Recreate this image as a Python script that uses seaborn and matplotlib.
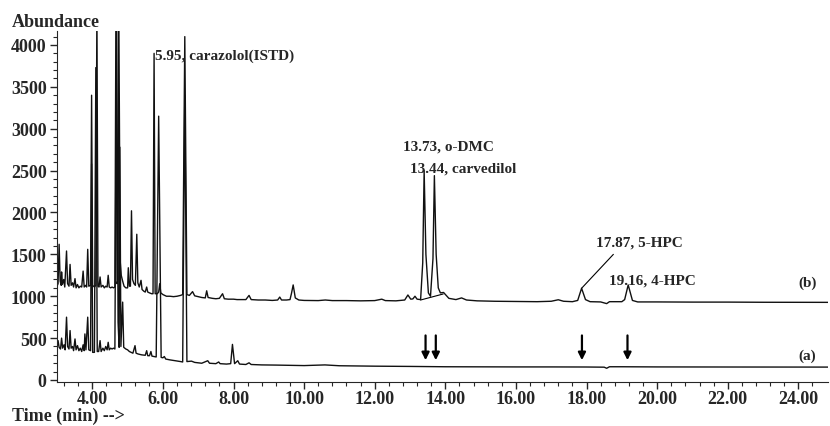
import matplotlib
matplotlib.use("Agg")
import matplotlib.pyplot as plt
import pandas as pd
import seaborn as sns

# trace (b): spiked sample (time in min, abundance)
time_b = [3.00, 3.03, 3.06, 3.09, 3.12, 3.13, 3.15, 3.19, 3.22, 3.27, 3.30, 3.34, 3.37, 3.40,
          3.44, 3.47, 3.51, 3.54, 3.58, 3.62, 3.66, 3.70, 3.74, 3.77, 3.81, 3.84, 3.87, 3.90,
          3.95, 3.98, 4.01, 4.06, 4.10, 4.13, 4.16, 4.19, 4.22, 4.25, 4.30, 4.34, 4.38, 4.42,
          4.45, 4.48, 4.52, 4.56, 4.60, 4.64, 4.67, 4.70, 4.73, 4.75, 4.79, 4.82, 4.86, 4.90,
          4.95, 5.00, 5.02, 5.05, 5.08, 5.11, 5.14, 5.18, 5.22, 5.26, 5.29, 5.33, 5.38, 5.41,
          5.46, 5.50, 5.54, 5.57, 5.62, 5.68, 5.72, 5.75, 5.78, 5.84, 5.88, 5.91, 5.94, 6.00,
          6.05, 6.10, 6.20, 6.30, 6.40, 6.50, 6.56, 6.62, 6.68, 6.75, 6.84, 6.90, 7.00, 7.10,
          7.20, 7.24, 7.28, 7.40, 7.50, 7.60, 7.69, 7.74, 7.85, 8.00, 8.10, 8.20, 8.35, 8.44,
          8.50, 8.70, 8.90, 9.10, 9.25, 9.31, 9.36, 9.50, 9.60, 9.64, 9.69, 9.75, 9.85, 10.00,
          10.40, 10.60, 10.80, 11.20, 11.60, 12.00, 12.20, 12.30, 12.60, 12.85, 12.94, 13.02,
          13.08, 13.14, 13.20, 13.30, 13.36, 13.40, 13.45, 13.52, 13.58, 13.65, 13.69, 13.74,
          13.80, 13.86, 13.95, 14.10, 14.30, 14.46, 14.60, 14.90, 15.40, 16.00, 16.60, 17.00,
          17.20, 17.35, 17.60, 17.75, 17.86, 17.97, 18.10, 18.40, 18.57, 18.65, 19.00, 19.08,
          19.18, 19.30, 19.45, 20.00, 21.00, 22.00, 23.00, 24.00, 24.85]
abund_b = [1120, 1150, 1620, 1180, 1130, 1290, 1140, 1200, 1110, 1540, 1150, 1120, 1380, 1130,
           1160, 1110, 1210, 1100, 1140, 1100, 1120, 1110, 1300, 1110, 1130, 1110, 1560, 1120,
           1130, 3400, 1130, 1110, 1130, 4500, 1120, 1110, 1230, 1110, 1130, 1100, 1120, 1110,
           1250, 1110, 1100, 1110, 1100, 1110, 4500, 1150, 1200, 4500, 1420, 1250, 1180, 1120,
           1100, 1100, 1340, 1120, 1120, 2020, 1200, 1150, 1130, 1740, 1160, 1110, 1190, 1080,
           1060, 1050, 1110, 1050, 1040, 1030, 1030, 3900, 1030, 1030, 1050, 1150, 1040, 1020,
           1010, 1000, 1000, 995, 1000, 1010, 1020, 4100, 1020, 1010, 1055, 1005, 995, 985,
           980, 1065, 985, 975, 970, 975, 1030, 970, 965, 965, 960, 960, 960, 1010,
           960, 955, 955, 950, 955, 990, 955, 955, 960, 1030, 1135, 980, 955, 950,
           948, 955, 948, 948, 945, 948, 965, 948, 945, 955, 1015, 965,
           968, 1000, 965, 960, 1400, 2500, 1500, 1040, 1000, 1450, 2440, 1500,
           1100, 1040, 1045, 975, 960, 980, 955, 945, 940, 938, 935, 940,
           958, 940, 935, 950, 1095, 960, 935, 932, 912, 935, 935, 960,
           1135, 950, 932, 932, 930, 930, 928, 928, 927]

# trace (a): blank sample
time_a = [3.00, 3.03, 3.06, 3.10, 3.13, 3.16, 3.20, 3.23, 3.27, 3.30, 3.34, 3.37, 3.40, 3.44,
          3.47, 3.51, 3.54, 3.58, 3.62, 3.66, 3.70, 3.74, 3.77, 3.79, 3.82, 3.87, 3.90, 3.95,
          3.98, 4.01, 4.06, 4.10, 4.14, 4.18, 4.22, 4.25, 4.30, 4.34, 4.38, 4.42, 4.45, 4.48,
          4.52, 4.56, 4.60, 4.64, 4.69, 4.73, 4.76, 4.78, 4.81, 4.86, 4.89, 4.95, 5.00, 5.05,
          5.10, 5.15, 5.21, 5.24, 5.30, 5.40, 5.50, 5.54, 5.57, 5.62, 5.66, 5.69, 5.75, 5.81,
          5.88, 5.95, 6.00, 6.04, 6.08, 6.20, 6.35, 6.50, 6.56, 6.62, 6.68, 6.81, 6.90, 7.10,
          7.27, 7.32, 7.50, 7.58, 7.62, 7.80, 7.92, 7.97, 8.03, 8.12, 8.17, 8.35, 8.44, 8.50,
          8.80, 9.20, 9.60, 10.00, 10.59, 11.00, 12.00, 13.00, 14.00, 15.00, 16.00, 17.00,
          18.00, 18.50, 18.57, 18.65, 19.00, 20.00, 22.00, 24.85]
abund_a = [380, 470, 390, 370, 500, 380, 420, 360, 750, 400, 370, 590, 380, 400,
           350, 490, 360, 410, 350, 380, 340, 420, 350, 550, 360, 750, 360, 350,
           2580, 330, 330, 3730, 340, 340, 470, 340, 380, 350, 400, 360, 450, 360,
           380, 370, 380, 370, 4500, 690, 390, 2780, 400, 930, 390, 370, 360, 340,
           330, 320, 410, 320, 310, 300, 295, 350, 290, 290, 340, 285, 280, 275,
           3150, 270, 265, 280, 250, 240, 230, 220, 215, 3400, 220, 225, 210, 200,
           230, 200, 195, 215, 195, 190, 195, 425, 195, 230, 190, 185, 205, 185,
           180, 178, 175, 172, 180, 170, 165, 162, 158, 157, 156, 156,
           155, 153, 140, 158, 158, 156, 155, 154]

# integration baseline under the carvedilol / o-DMC pair in (b)
integ_t = [13.30, 13.94]
integ_v = [955, 1027]

arrow_times = [13.44, 13.73, 17.87, 19.16]

sns.set_style("ticks")
plt.rcParams["font.family"] = ["Liberation Serif", "DejaVu Serif"]
plt.rcParams["font.weight"] = "bold"

df_b = pd.DataFrame({"t": time_b, "v": abund_b})
df_a = pd.DataFrame({"t": time_a, "v": abund_a})

fig = plt.figure(figsize=(8.3, 4.27), dpi=100)
ax = fig.add_axes([57 / 830, 1 - 383 / 427, (828 - 57) / 830, (383 - 32) / 427])

sns.lineplot(data=df_b, x="t", y="v", ax=ax, color="#111111", lw=1.0, estimator=None, sort=False)
sns.lineplot(data=df_a, x="t", y="v", ax=ax, color="#111111", lw=1.0, estimator=None, sort=False)
ax.plot(integ_t, integ_v, color="black", lw=0.8)

ax.set_xlim(3.0, 24.84)
ax.set_ylim(-24, 4167)
ax.set_xticks([4, 6, 8, 10, 12, 14, 16, 18, 20, 22, 24])
ax.set_xticklabels(["%.2f" % t for t in [4, 6, 8, 10, 12, 14, 16, 18, 20, 22, 24]])
ax.set_xticks([3.2 + 0.4 * i for i in range(54)], minor=True)
ax.set_yticks(range(0, 4001, 500))
ax.set_yticks(range(0, 4101, 100), minor=True)
ax.tick_params(axis="both", which="major", labelsize=13, length=5, width=1)
ax.tick_params(axis="x", which="major", pad=0.5)
ax.tick_params(axis="y", which="major", pad=2.5)
ax.tick_params(axis="both", which="minor", length=3, width=0.8)
for lab in ax.get_xticklabels() + ax.get_yticklabels():
    lab.set_fontweight("bold")
ax.set_xlabel("")
ax.set_ylabel("")
sns.despine(ax=ax)

# peak labels
ax.text(5.77, 3872, "5.95, carazolol(ISTD)", fontsize=11, fontweight="bold", va="center")
ax.text(12.79, 2788, "13.73, o-DMC", fontsize=11, fontweight="bold", va="center")
ax.text(13.0, 2531, "13.44, carvedilol", fontsize=11, fontweight="bold", va="center")
ax.text(18.26, 1648, "17.87, 5-HPC", fontsize=11, fontweight="bold", va="center")
ax.text(18.64, 1197, "19.16, 4-HPC", fontsize=11, fontweight="bold", va="center")
ax.plot([17.86, 18.76], [1095, 1500], color="black", lw=0.8)
ax.text(24.26, 1164, "(b)", fontsize=11, fontweight="bold", va="center", ha="center")
ax.text(24.26, 290, "(a)", fontsize=11, fontweight="bold", va="center", ha="center")

for t in arrow_times:
    ax.annotate("", xy=(t, 203), xytext=(t, 565),
                arrowprops=dict(arrowstyle="-|>", color="black", lw=1.6, mutation_scale=11))

fig.text(12 / 830, 1 - 22.5 / 427, "Abundance", fontsize=13, fontweight="bold", va="center")
fig.text(12 / 830, 1 - 416 / 427, "Time (min) -->", fontsize=13, fontweight="bold", va="center")

fig.savefig("out.png", dpi=100)
